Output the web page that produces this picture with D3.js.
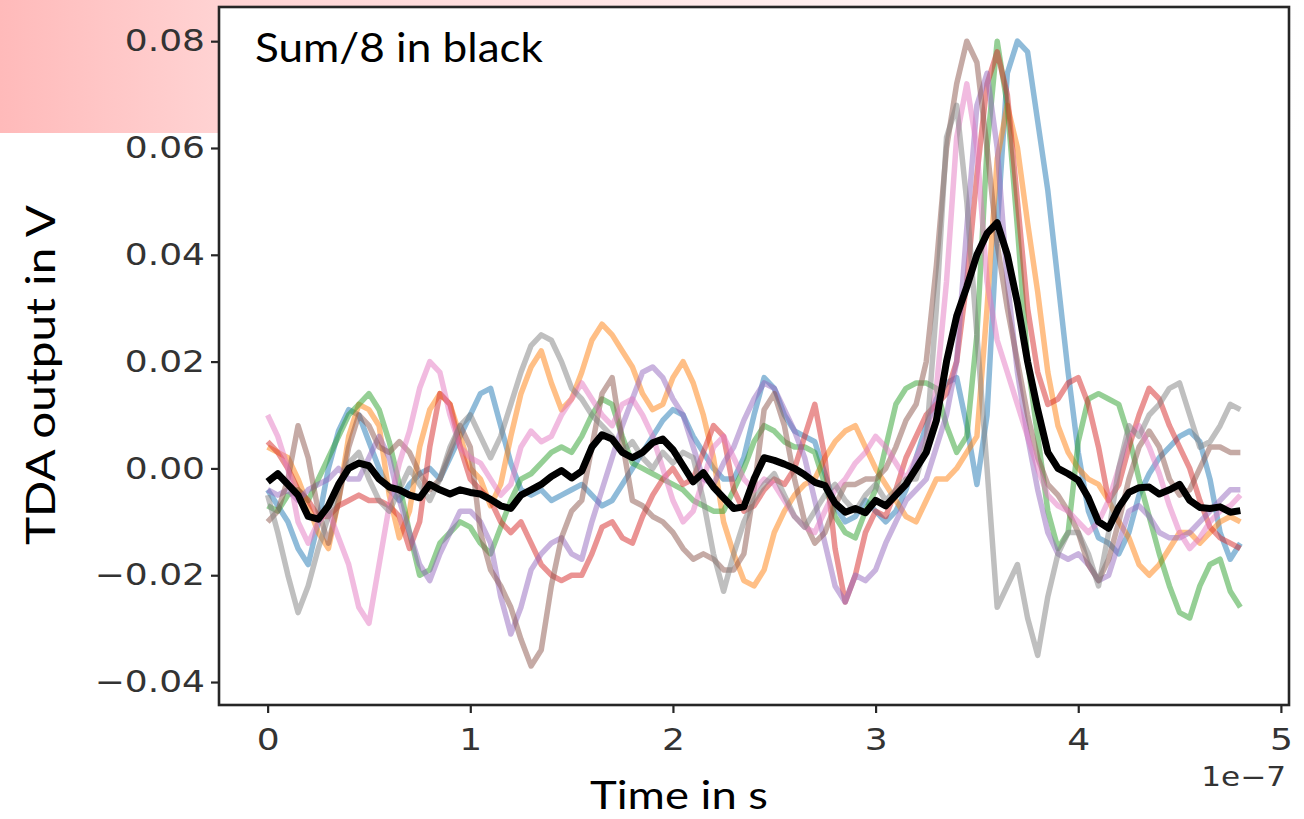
<!DOCTYPE html>
<html>
<head>
<meta charset="utf-8">
<script src="https://cdn.jsdelivr.net/npm/d3@7"></script>
<style>
  html, body { margin: 0; padding: 0; background: #ffffff; }
  svg { display: block; }
</style>
</head>
<body>
<svg id="chart" width="1304" height="819"></svg>
<script>
// Eight TDA output traces sampled every 0.05e-7 s from 0 to 4.8e-7 s, plus their mean.
const sampleStep = 0.05e-7;

const traceBlue = [
  -0.004, -0.007, -0.010, -0.015, -0.018, -0.010, 0.000, 0.007, 0.011, 0.010,
  0.005, 0.000, -0.004, -0.006, -0.003, -0.001, 0.000, -0.002, 0.002, 0.006,
  0.010, 0.014, 0.015, 0.008, 0.001, -0.004, -0.005, -0.004, -0.006, -0.005,
  -0.004, -0.003, -0.005, -0.007, -0.006, -0.003, 0.000, 0.003, 0.006, 0.009,
  0.011, 0.010, 0.006, 0.003, 0.000, -0.002, -0.002, 0.002, 0.010, 0.017,
  0.015, 0.010, 0.007, 0.006, 0.005, -0.001, -0.007, -0.010, -0.009, -0.006,
  -0.008, -0.010, -0.008, -0.004, 0.002, 0.008, 0.013, 0.016, 0.017, 0.008,
  -0.003, 0.010, 0.045, 0.074, 0.080, 0.078, 0.065, 0.052, 0.035, 0.018,
  0.003, -0.008, -0.013, -0.014, -0.016, -0.012, -0.005, -0.001, 0.002, 0.004,
  0.006, 0.007, 0.005, -0.002, -0.012, -0.017, -0.014
];

const traceOrange = [
  0.004, 0.003, 0.002, -0.002, -0.007, -0.012, -0.015, -0.006, 0.006, 0.012,
  0.011, 0.008, -0.005, -0.013, -0.008, 0.004, 0.011, 0.014, 0.012, 0.006,
  0.000, -0.002, -0.007, -0.003, 0.006, 0.014, 0.019, 0.022, 0.016, 0.011,
  0.013, 0.018, 0.024, 0.027, 0.025, 0.022, 0.019, 0.014, 0.011, 0.012,
  0.017, 0.020, 0.016, 0.010, 0.002, -0.010, -0.016, -0.021, -0.022, -0.019,
  -0.012, -0.008, -0.005, -0.003, -0.002, 0.002, 0.005, 0.007, 0.008, 0.004,
  0.000, -0.003, -0.006, -0.009, -0.010, -0.006, -0.002, -0.002, 0.000, 0.003,
  0.006, 0.030, 0.058, 0.068, 0.060, 0.046, 0.033, 0.018, 0.008, 0.003,
  0.000, -0.002, -0.003, -0.006, -0.010, -0.013, -0.018, -0.020, -0.018, -0.015,
  -0.012, -0.012, -0.014, -0.012, -0.010, -0.009, -0.010
];

const traceGreen = [
  -0.007, -0.008, -0.005, -0.004, -0.006, -0.002, 0.002, 0.006, 0.010, 0.012,
  0.014, 0.011, 0.005, -0.003, -0.012, -0.020, -0.019, -0.014, -0.012, -0.010,
  -0.011, -0.014, -0.016, -0.011, -0.006, -0.002, -0.001, 0.001, 0.003, 0.004,
  0.003, 0.006, 0.010, 0.013, 0.012, 0.006, 0.001, 0.000, -0.001, -0.002,
  -0.003, -0.004, -0.006, -0.007, -0.008, -0.008, -0.004, 0.000, 0.005, 0.008,
  0.007, 0.005, 0.004, 0.004, 0.003, -0.003, -0.009, -0.012, -0.013, -0.008,
  -0.004, 0.004, 0.012, 0.015, 0.016, 0.016, 0.015, 0.008, 0.003, 0.006,
  0.025, 0.060, 0.080, 0.068, 0.045, 0.020, 0.006, -0.008, -0.015, -0.012,
  0.005, 0.013, 0.014, 0.013, 0.012, 0.006, -0.002, -0.009, -0.016, -0.022,
  -0.027, -0.028, -0.022, -0.018, -0.017, -0.023, -0.026
];

const traceRed = [
  0.005, 0.003, 0.000, -0.004, -0.006, -0.009, -0.009, -0.007, -0.006, -0.005,
  -0.006, -0.006, -0.007, -0.009, -0.015, -0.010, 0.004, 0.014, 0.012, 0.004,
  -0.002, -0.004, -0.006, -0.010, -0.012, -0.010, -0.014, -0.018, -0.020, -0.021,
  -0.020, -0.020, -0.016, -0.011, -0.010, -0.013, -0.014, -0.009, -0.005, -0.002,
  0.000, -0.003, -0.002, 0.003, 0.008, 0.006, -0.004, -0.008, -0.007, -0.004,
  -0.002, -0.003, 0.000, 0.006, 0.012, 0.002, -0.015, -0.025, -0.020, -0.012,
  -0.008, -0.009, -0.004, 0.002, 0.006, 0.010, 0.012, 0.014, 0.020, 0.035,
  0.055, 0.072, 0.078, 0.070, 0.050, 0.030, 0.018, 0.012, 0.013, 0.016,
  0.017, 0.012, 0.004, -0.006, -0.003, 0.004, 0.010, 0.015, 0.013, 0.008,
  0.004, 0.000, -0.006, -0.011, -0.013, -0.014, -0.015
];

const tracePurple = [
  -0.004, -0.005, -0.004, -0.006, -0.004, -0.003, -0.002, 0.000, -0.002, -0.002,
  0.002, 0.006, 0.002, -0.006, -0.012, -0.018, -0.021, -0.016, -0.012, -0.008,
  -0.008, -0.010, -0.014, -0.024, -0.031, -0.026, -0.019, -0.016, -0.014, -0.013,
  -0.016, -0.017, -0.010, -0.004, 0.002, 0.008, 0.013, 0.018, 0.019, 0.017,
  0.013, 0.010, 0.004, -0.002, -0.003, 0.001, 0.004, 0.009, 0.013, 0.016,
  0.015, 0.011, 0.007, 0.002, -0.006, -0.014, -0.022, -0.025, -0.020, -0.021,
  -0.019, -0.014, -0.010, -0.006, -0.004, -0.002, 0.004, 0.010, 0.020, 0.045,
  0.068, 0.074, 0.060, 0.035, 0.018, 0.006, -0.004, -0.012, -0.016, -0.017,
  -0.016, -0.018, -0.021, -0.020, -0.014, -0.008, -0.007, -0.009, -0.012, -0.013,
  -0.013, -0.012, -0.010, -0.008, -0.006, -0.004, -0.004
];

const traceBrown = [
  -0.010, -0.008, -0.002, 0.008, 0.002, -0.008, -0.014, -0.006, 0.004, 0.010,
  0.008, 0.004, 0.003, 0.005, 0.003, -0.001, -0.004, -0.002, 0.003, 0.008,
  0.004, -0.012, -0.019, -0.022, -0.026, -0.032, -0.037, -0.034, -0.022, -0.013,
  -0.008, -0.006, 0.004, 0.014, 0.017, 0.005, -0.006, -0.007, -0.009, -0.010,
  -0.012, -0.015, -0.017, -0.016, -0.017, -0.019, -0.019, -0.016, -0.004, 0.011,
  0.014, 0.008, -0.002, -0.010, -0.014, -0.012, -0.007, -0.003, -0.003, -0.002,
  -0.002, 0.000, 0.004, 0.009, 0.012, 0.020, 0.038, 0.060, 0.072, 0.080,
  0.076, 0.060, 0.042, 0.030, 0.020, 0.010, 0.002, -0.003, -0.005, -0.008,
  -0.012, -0.018, -0.021, -0.017, -0.010, -0.002, 0.004, 0.007, 0.004, -0.002,
  -0.005, -0.004, 0.000, 0.004, 0.004, 0.003, 0.003
];

const tracePink = [
  0.010, 0.006, 0.000, -0.010, -0.014, -0.010, -0.008, -0.013, -0.018, -0.026,
  -0.029, -0.018, -0.007, 0.001, 0.007, 0.015, 0.020, 0.018, 0.010, 0.004,
  0.002, 0.001, -0.002, -0.005, -0.003, 0.004, 0.007, 0.005, 0.006, 0.010,
  0.013, 0.016, 0.013, 0.010, 0.008, 0.012, 0.013, 0.010, 0.006, 0.000,
  -0.006, -0.010, -0.008, -0.002, 0.004, 0.006, 0.002, -0.002, -0.004, -0.002,
  -0.003, -0.006, -0.009, -0.011, -0.012, -0.008, -0.004, -0.002, 0.001, 0.003,
  0.006, 0.004, 0.001, -0.002, 0.002, 0.006, 0.015, 0.035, 0.062, 0.072,
  0.060, 0.035, 0.024, 0.018, 0.012, 0.006, 0.000, -0.005, -0.007, -0.008,
  -0.010, -0.012, -0.010, -0.006, 0.000, 0.006, 0.008, 0.004, -0.001, -0.007,
  -0.012, -0.015, -0.013, -0.010, -0.008, -0.007, -0.005
];

const traceGray = [
  -0.005, -0.012, -0.020, -0.027, -0.022, -0.015, -0.009, -0.004, 0.001, 0.003,
  -0.002, -0.006, -0.008, -0.004, 0.000, -0.003, -0.006, -0.002, 0.004, 0.008,
  0.010, 0.006, 0.002, 0.006, 0.012, 0.018, 0.023, 0.025, 0.024, 0.020,
  0.015, 0.013, 0.010, 0.008, 0.006, 0.003, 0.005, 0.002, 0.000, 0.003,
  0.001, 0.003, 0.002, -0.006, -0.016, -0.023, -0.016, -0.010, -0.006, -0.003,
  -0.001, -0.005, -0.009, -0.011, -0.008, -0.005, -0.003, -0.006, -0.008, -0.005,
  -0.003, -0.006, -0.004, -0.002, -0.002, 0.005, 0.030, 0.062, 0.068, 0.050,
  0.025, 0.000, -0.026, -0.022, -0.018, -0.028, -0.035, -0.024, -0.016, -0.012,
  -0.012, -0.016, -0.022, -0.012, 0.000, 0.008, 0.006, 0.010, 0.012, 0.015,
  0.016, 0.010, 0.004, 0.005, 0.008, 0.012, 0.011
];

// Mean of the eight traces (Sum/8)
const sumOver8 = [
  -0.0025, -0.0010, -0.0030, -0.0050, -0.0090, -0.0095, -0.0070, -0.0030, 0.0000, 0.0010,
  0.0005, -0.0020, -0.0035, -0.0040, -0.0050, -0.0055, -0.0030, -0.0040, -0.0048, -0.0040,
  -0.0045, -0.0048, -0.0058, -0.0070, -0.0075, -0.0050, -0.0040, -0.0030, -0.0015, -0.0004,
  -0.0018, -0.0005, 0.0040, 0.0063, 0.0055, 0.0030, 0.0020, 0.0030, 0.0048, 0.0055,
  0.0035, 0.0005, -0.0025, -0.0008, -0.0035, -0.0055, -0.0075, -0.0072, -0.0020, 0.0020,
  0.0015, 0.0008, 0.0000, -0.0012, -0.0026, -0.0032, -0.0065, -0.0082, -0.0075, -0.0083,
  -0.0060, -0.0070, -0.0050, -0.0030, 0.0000, 0.0030, 0.0090, 0.0200, 0.0285, 0.0340,
  0.0400, 0.0440, 0.0460, 0.0400, 0.0310, 0.0200, 0.0110, 0.0030, 0.0000, -0.0010,
  -0.0022, -0.0055, -0.0100, -0.0112, -0.0073, -0.0045, -0.0036, -0.0035, -0.0048, -0.0040,
  -0.0030, -0.0060, -0.0073, -0.0075, -0.0072, -0.0082, -0.0079
];

const traces = [traceBlue, traceOrange, traceGreen, traceRed, tracePurple, traceBrown, tracePink, traceGray];
const traceColors = ["#1f77b4", "#ff7f0e", "#2ca02c", "#d62728", "#9467bd", "#8c564b", "#e377c2", "#7f7f7f"];

const yTickValues = [-0.04, -0.02, 0.00, 0.02, 0.04, 0.06, 0.08];
const xTickValues = [0, 1e-7, 2e-7, 3e-7, 4e-7, 5e-7];
const xOffsetText = "1e\u22127";
const xTitle = "Time in s";
const yTitle = "TDA output in V";
const noteText = "Sum/8 in black";

const svg = d3.select("#chart");

// Pink banner shape behind the top of the figure
const defs = svg.append("defs");
const grad = defs.append("linearGradient").attr("id", "banner").attr("x1", "0").attr("x2", "1").attr("y1", "0").attr("y2", "0");
grad.append("stop").attr("offset", "0").attr("stop-color", "#ffbaba");
grad.append("stop").attr("offset", "0.17").attr("stop-color", "#ffd3d3");
grad.append("stop").attr("offset", "0.7").attr("stop-color", "#fff3f3");
grad.append("stop").attr("offset", "1").attr("stop-color", "#ffffff");
svg.append("rect").attr("x", 0).attr("y", 0).attr("width", 1304).attr("height", 133).attr("fill", "url(#banner)");

// Axes box
const box = { left: 219, right: 1289, top: 7, bottom: 705 };
svg.append("rect")
  .attr("x", box.left).attr("y", box.top)
  .attr("width", box.right - box.left).attr("height", box.bottom - box.top)
  .attr("fill", "#ffffff");

const x = d3.scaleLinear().domain([-0.24e-7, 5.04e-7]).range([box.left, box.right]);
const y = d3.scaleLinear().domain([-0.0443, 0.0864]).range([box.bottom, box.top]);

const clip = defs.append("clipPath").attr("id", "plotArea");
clip.append("rect").attr("x", box.left).attr("y", box.top)
  .attr("width", box.right - box.left).attr("height", box.bottom - box.top);

const line = d3.line()
  .x((d, i) => x(i * sampleStep))
  .y(d => y(d))
  .curve(d3.curveLinear);

const plot = svg.append("g").attr("clip-path", "url(#plotArea)");

plot.selectAll("path.trace")
  .data(traces)
  .join("path")
  .attr("class", "trace")
  .attr("d", line)
  .attr("fill", "none")
  .attr("stroke", (d, i) => traceColors[i])
  .attr("stroke-opacity", 0.5)
  .attr("stroke-width", 5.5)
  .attr("stroke-linejoin", "round")
  .attr("stroke-linecap", "butt");

plot.append("path")
  .attr("d", line(sumOver8))
  .attr("fill", "none")
  .attr("stroke", "#000000")
  .attr("stroke-width", 7)
  .attr("stroke-linejoin", "round");

// Widen a text element horizontally by a given factor, keeping its anchor
function widen(sel, factor) {
  sel.each(function () {
    const w = this.getComputedTextLength();
    d3.select(this).attr("textLength", w * factor).attr("lengthAdjust", "spacingAndGlyphs");
  });
}

// Axes
const tickFont = "'DejaVu Sans', sans-serif";
const xAxis = d3.axisBottom(x)
  .tickValues(xTickValues)
  .tickFormat(d => d3.format("d")(Math.round(d / 1e-7)))
  .tickSize(8).tickPadding(16);
const yAxis = d3.axisLeft(y)
  .tickValues(yTickValues)
  .tickFormat(d => d3.format(".2f")(d).replace("-", "\u2212"))
  .tickSize(8).tickPadding(6);

const gx = svg.append("g").attr("transform", `translate(0,${box.bottom})`).call(xAxis);
const gy = svg.append("g").attr("transform", `translate(${box.left},0)`).call(yAxis);

[gx, gy].forEach(g => {
  g.select(".domain").remove();
  g.selectAll(".tick line").attr("stroke", "#262626").attr("stroke-width", 2.2);
  g.selectAll(".tick text")
    .attr("fill", "#333333")
    .style("font-family", tickFont)
    .style("font-size", "30px")
    .call(widen, 1.2);
});

// Frame
svg.append("rect")
  .attr("x", box.left).attr("y", box.top)
  .attr("width", box.right - box.left).attr("height", box.bottom - box.top)
  .attr("fill", "none").attr("stroke", "#262626").attr("stroke-width", 2.6);

// Offset text for the x axis
svg.append("text")
  .attr("x", 1286).attr("y", 786)
  .attr("text-anchor", "end")
  .attr("fill", "#333333")
  .style("font-family", tickFont)
  .style("font-size", "27px")
  .text(xOffsetText)
  .call(widen, 1.15);

// Titles
const titleFont = "Lato, 'Open Sans', sans-serif";
svg.append("text")
  .attr("x", 590).attr("y", 809)
  .attr("fill", "#000000")
  .style("font-family", titleFont)
  .style("font-size", "39px")
  .attr("textLength", 178).attr("lengthAdjust", "spacingAndGlyphs")
  .text(xTitle);

svg.append("text")
  .attr("transform", "translate(55,545) rotate(-90)")
  .attr("fill", "#000000")
  .style("font-family", titleFont)
  .style("font-size", "40px")
  .attr("textLength", 340).attr("lengthAdjust", "spacingAndGlyphs")
  .text(yTitle);

svg.append("text")
  .attr("x", 255).attr("y", 62)
  .attr("fill", "#000000")
  .style("font-family", titleFont)
  .style("font-size", "40px")
  .attr("textLength", 288).attr("lengthAdjust", "spacingAndGlyphs")
  .text(noteText);
</script>
</body>
</html>
